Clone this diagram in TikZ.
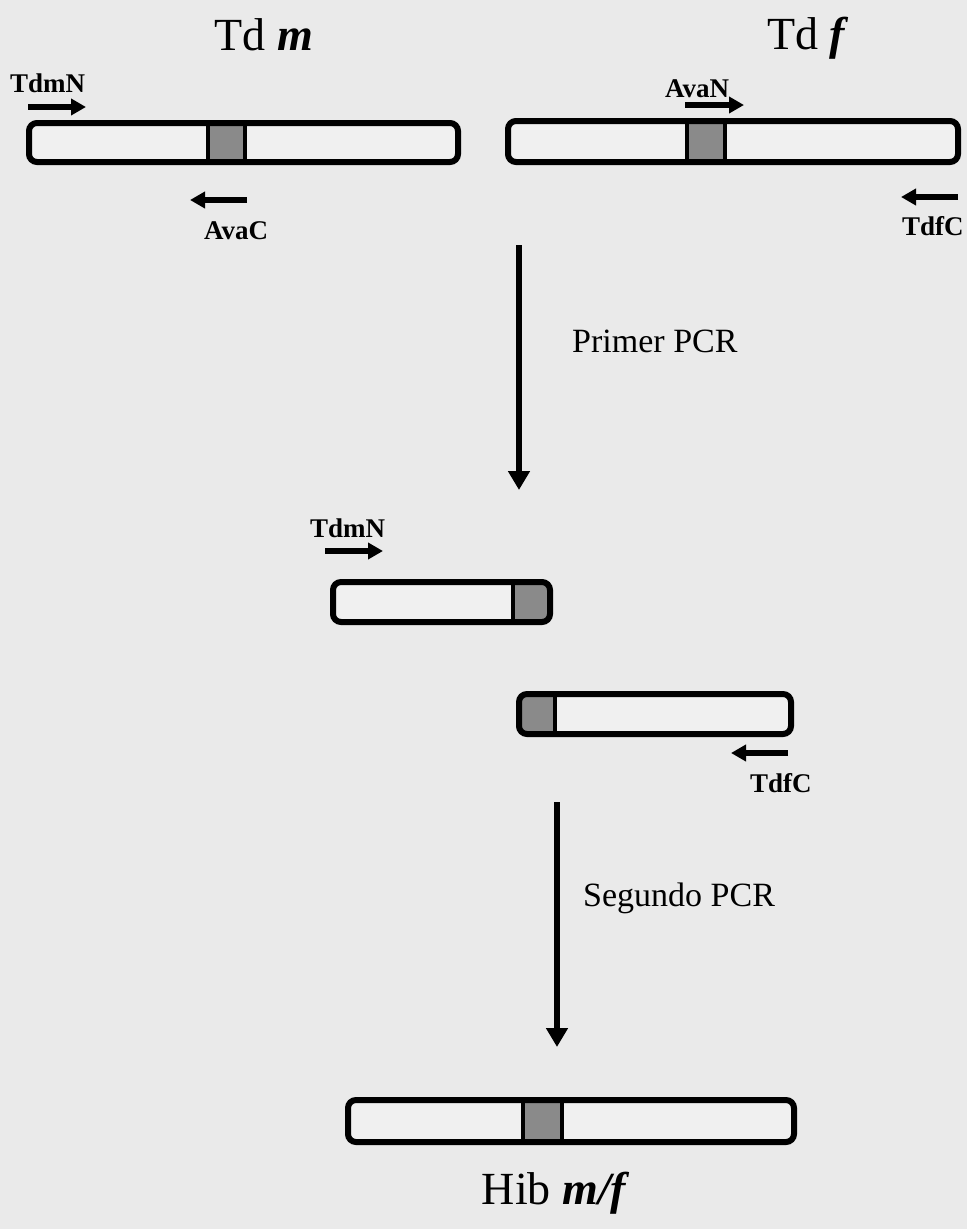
\documentclass[tikz,border=0pt]{standalone}
\usepackage{fontspec}
\setmainfont{Liberation Serif}
\usetikzlibrary{arrows.meta}
\definecolor{bg}{RGB}{234,234,234}
\definecolor{barfill}{RGB}{240,240,240}
\definecolor{box}{RGB}{138,138,138}
\tikzset{
  bar/.style={draw=black, line width=6pt, rounded corners=8pt, fill=barfill},
  seg/.style={fill=box},
  divider/.style={draw=black, line width=4.5pt},
  primer/.style={line width=5.5pt, -{Triangle[length=15pt,width=16pt]}},
  process/.style={line width=6.5pt, -{Triangle[length=19pt,width=21pt]}},
  plabel/.style={font=\fontsize{27}{30}\selectfont\bfseries, anchor=base west, inner sep=0pt},
  title/.style={font=\fontsize{46}{50}\selectfont, anchor=base, inner sep=0pt},
  steplabel/.style={font=\fontsize{34}{38}\selectfont, anchor=base west, inner sep=0pt}
}
\begin{document}
\begin{tikzpicture}[x=1pt,y=-1pt]
\fill[bg] (0,0) rectangle (967,1229);
\useasboundingbox (0,0) rectangle (967,1229);

% titles
\node[title] (tdm) at (264,50) {Td \textbf{\textit{m}}};
\node[title] (tdf) at (808,49) {Td \textbf{\textit{f}}};
\node[title] (hib) at (556,1204) {Hib \textbf{\textit{m/f}}};

% ---- top left bar (Td m)
\fill[barfill, rounded corners=8pt] (29,123) rectangle (458,162);
\fill[seg] (208,123) rectangle (245,162);
\draw[divider] (208,123) -- (208,162) (245,123) -- (245,162);
\node[bar, minimum width=429pt, minimum height=39pt, fill=none, inner sep=0pt] (barm) at (243.5,142.5) {};

% ---- top right bar (Td f)
\fill[barfill, rounded corners=8pt] (508,121) rectangle (958,162);
\fill[seg] (687,121) rectangle (725,162);
\draw[divider] (687,121) -- (687,162) (725,121) -- (725,162);
\node[bar, minimum width=450pt, minimum height=41pt, fill=none, inner sep=0pt] (barf) at (733,141.5) {};

% primers top
\coordinate (tdmNa) at (28,107); \coordinate (tdmNb) at (86,107);
\draw[primer] (tdmNa) -- (tdmNb);
\node[plabel] (tdmN) at (10,92) {TdmN};
\coordinate (avaCa) at (247,200); \coordinate (avaCb) at (190,200);
\draw[primer] (avaCa) -- (avaCb);
\node[plabel] (avaC) at (204,239) {AvaC};
\coordinate (avaNa) at (685,105); \coordinate (avaNb) at (744,105);
\draw[primer] (avaNa) -- (avaNb);
\node[plabel] (avaN) at (665,97) {AvaN};
\coordinate (tdfCa) at (958,197); \coordinate (tdfCb) at (901,197);
\draw[primer] (tdfCa) -- (tdfCb);
\node[plabel] (tdfC) at (902,235) {TdfC};

% process arrow 1
\coordinate (p1a) at (519,245); \coordinate (p1b) at (519,490);
\draw[process] (p1a) -- (p1b);
\node[steplabel] (primerpcr) at (572,352) {Primer PCR};

% ---- stage 2 bars
\coordinate (s1nw) at (333,582); \coordinate (s1se) at (550,622);
\begin{scope}
\clip[rounded corners=8pt] (s1nw) rectangle (s1se);
\fill[barfill] (s1nw) rectangle (s1se);
\fill[seg] (513,582) rectangle (550,622);
\end{scope}
\draw[divider] (513,582) -- (513,622);
\node[bar, minimum width=217pt, minimum height=40pt, fill=none, inner sep=0pt] (bar1) at (441.5,602) {};

\coordinate (s2nw) at (519,694); \coordinate (s2se) at (791,734);
\begin{scope}
\clip[rounded corners=8pt] (s2nw) rectangle (s2se);
\fill[barfill] (s2nw) rectangle (s2se);
\fill[seg] (519,694) rectangle (555,734);
\end{scope}
\draw[divider] (555,694) -- (555,734);
\node[bar, minimum width=272pt, minimum height=40pt, fill=none, inner sep=0pt] (bar2) at (655,714) {};

\coordinate (tdmN2a) at (325,551); \coordinate (tdmN2b) at (383,551);
\draw[primer] (tdmN2a) -- (tdmN2b);
\node[plabel] (tdmN2) at (310,537) {TdmN};
\coordinate (tdfC2a) at (788,753); \coordinate (tdfC2b) at (731,753);
\draw[primer] (tdfC2a) -- (tdfC2b);
\node[plabel] (tdfC2) at (750,792) {TdfC};

% process arrow 2
\coordinate (p2a) at (557,802); \coordinate (p2b) at (557,1047);
\draw[process] (p2a) -- (p2b);
\node[steplabel] (segpcr) at (583,906) {Segundo PCR};

% ---- final bar
\fill[barfill, rounded corners=8pt] (348,1100) rectangle (794,1142);
\fill[seg] (523,1100) rectangle (562,1142);
\draw[divider] (523,1100) -- (523,1142) (562,1100) -- (562,1142);
\node[bar, minimum width=446pt, minimum height=42pt, fill=none, inner sep=0pt] (barh) at (571,1121) {};
\end{tikzpicture}
\end{document}
